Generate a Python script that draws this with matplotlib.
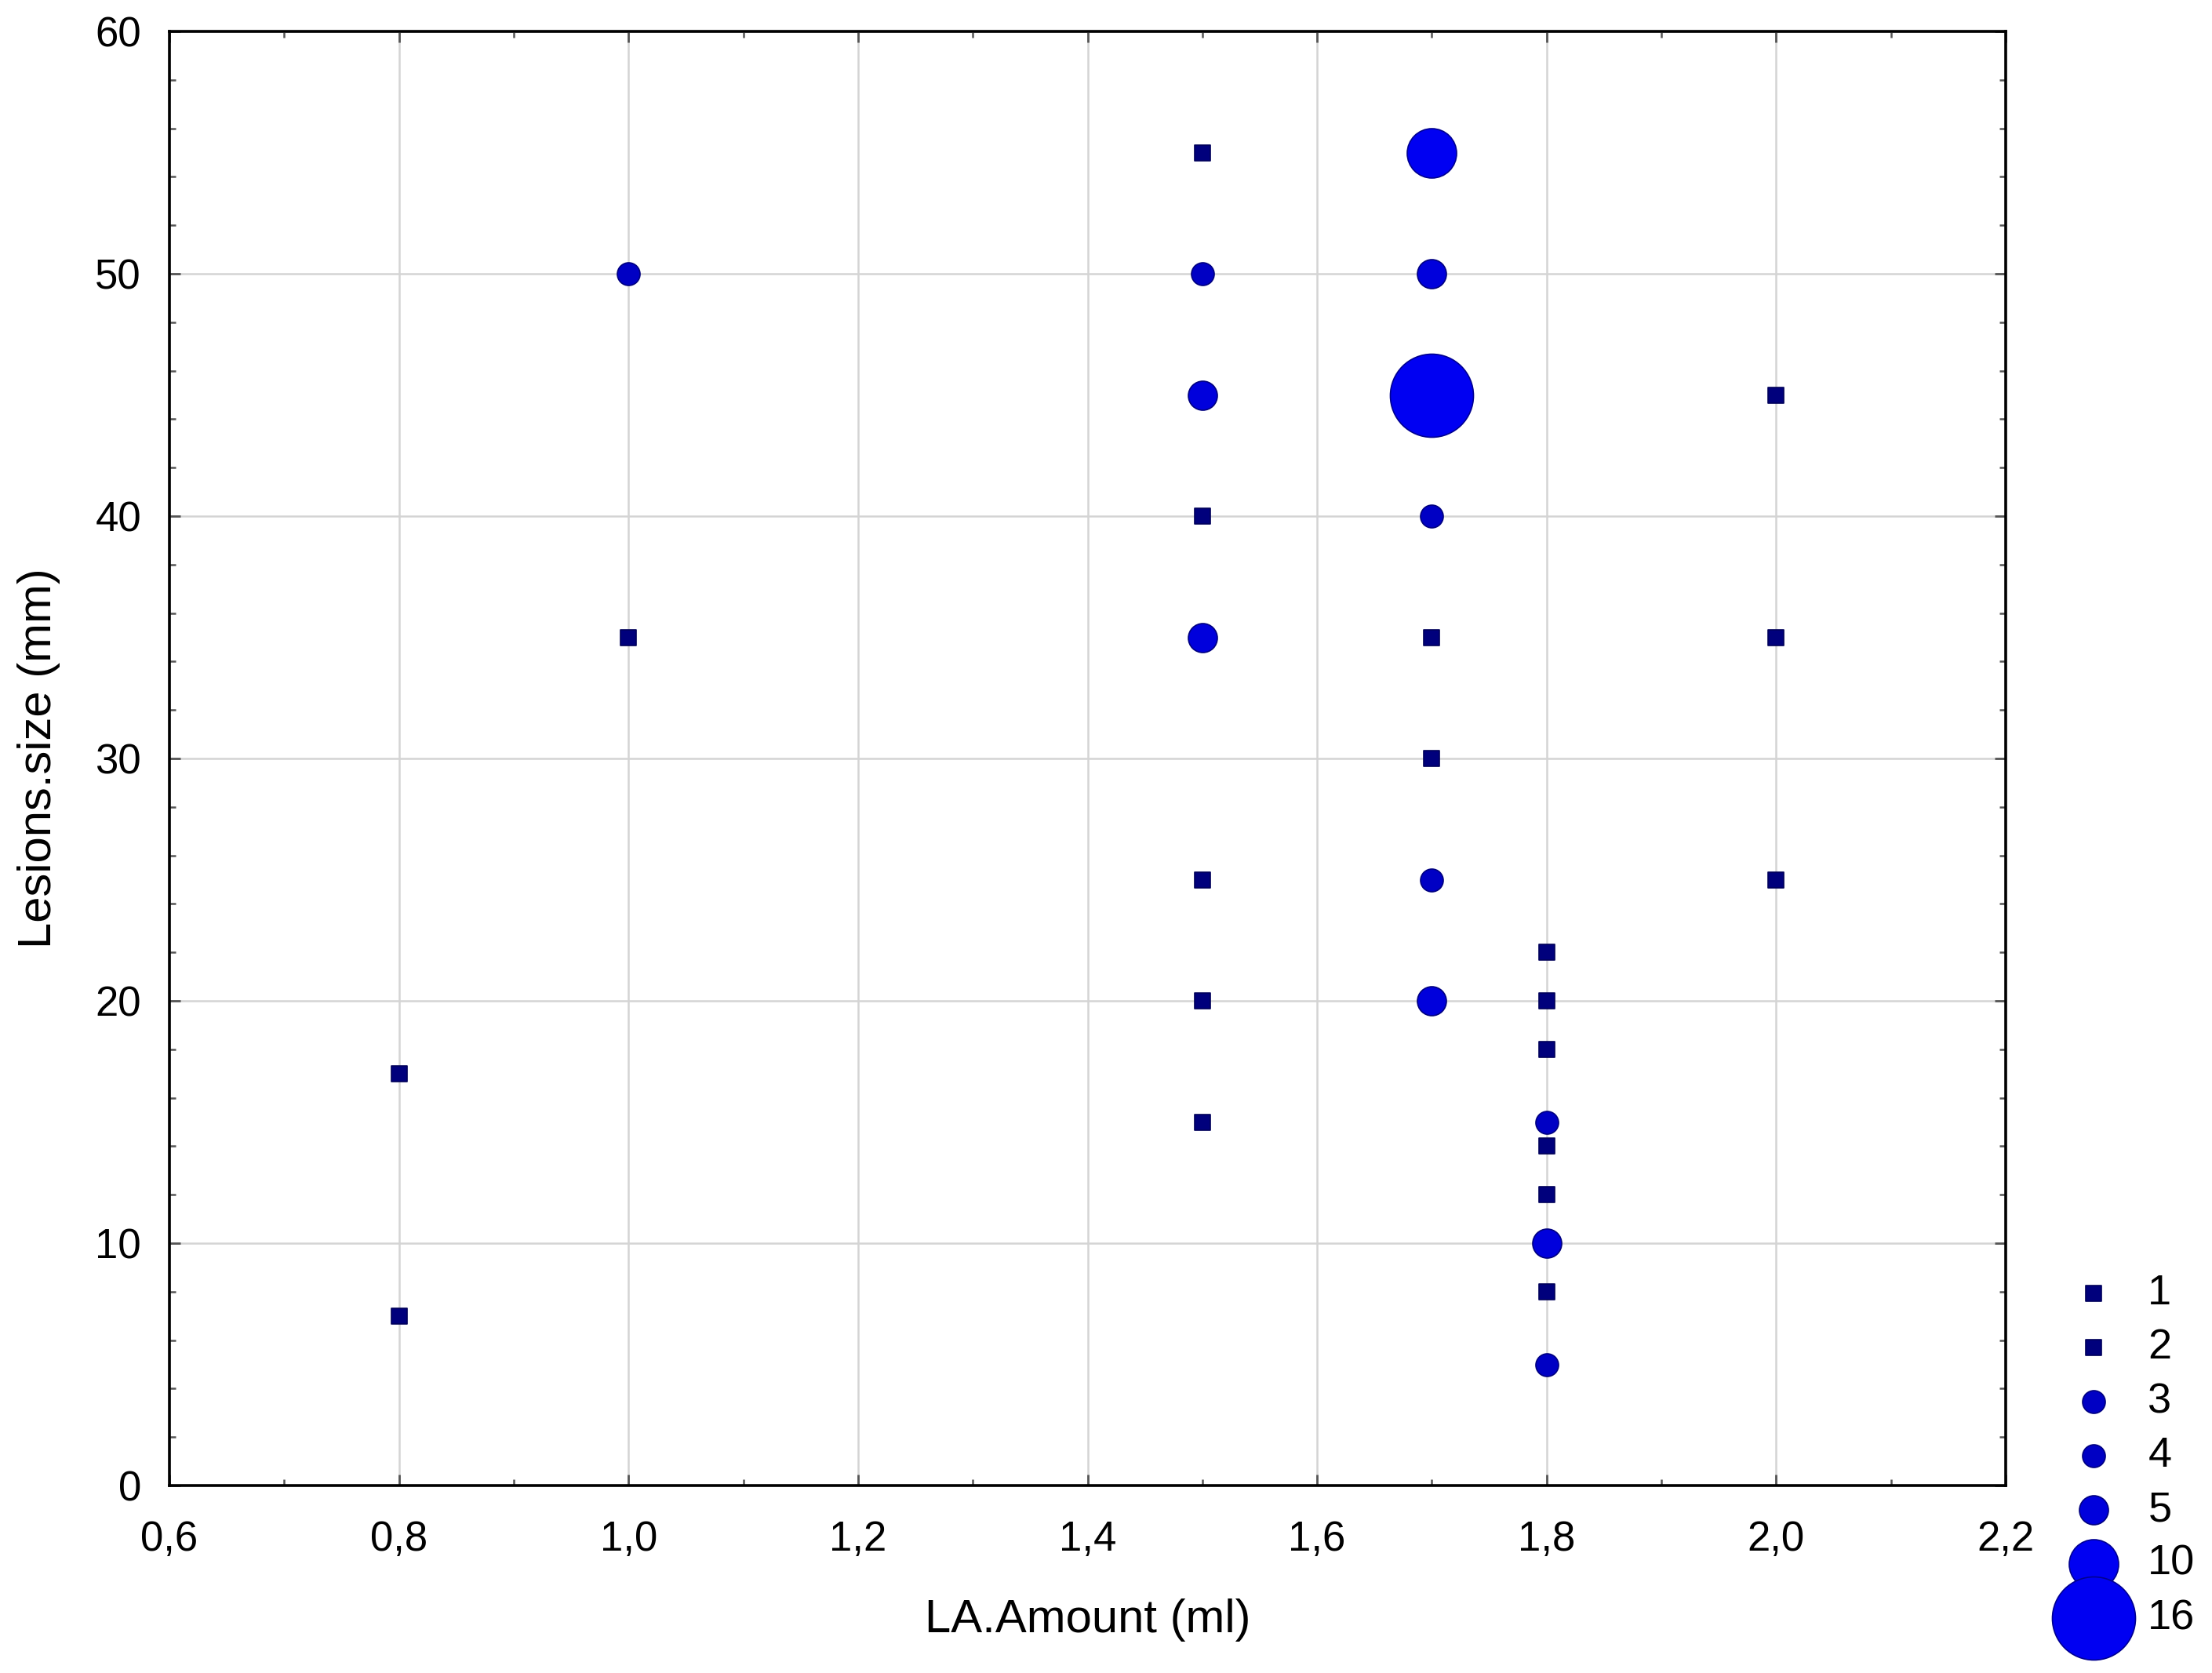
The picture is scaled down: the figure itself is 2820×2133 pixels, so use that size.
import matplotlib.pyplot as plt
import numpy as np

plt.rcParams['font.family'] = ['Liberation Sans', 'DejaVu Sans']

# data: LA amount, lesion size, number of cases at that point
la_amount = [0.8, 0.8,
             1.0, 1.0,
             1.5, 1.5, 1.5, 1.5, 1.5, 1.5, 1.5, 1.5,
             1.7, 1.7, 1.7, 1.7, 1.7, 1.7, 1.7, 1.7,
             1.8, 1.8, 1.8, 1.8, 1.8, 1.8, 1.8, 1.8, 1.8,
             2.0, 2.0, 2.0]
lesion_size = [17, 7,
               50, 35,
               55, 50, 45, 40, 35, 25, 20, 15,
               55, 50, 45, 40, 35, 30, 25, 20,
               22, 20, 18, 15, 14, 12, 10, 8, 5,
               45, 35, 25]
n_cases = [1, 1,
           3, 1,
           1, 3, 5, 1, 5, 1, 1, 1,
           10, 5, 16, 3, 1, 1, 3, 5,
           1, 1, 1, 3, 1, 1, 5, 1, 3,
           1, 1, 1]

legend_counts = [1, 2, 3, 4, 5, 10, 16]

xticks = [0.6, 0.8, 1.0, 1.2, 1.4, 1.6, 1.8, 2.0, 2.2]
yticks = [0, 10, 20, 30, 40, 50, 60]

DPI = 200
# marker look per count (diameter in pixels)
size_px = {1: 20, 2: 20, 3: 29, 4: 29, 5: 37, 10: 63, 16: 106}
shape = {1: 's', 2: 's', 3: 'o', 4: 'o', 5: 'o', 10: 'o', 16: 'o'}
face = {1: '#00007c', 2: '#00007c', 3: '#0000c4', 4: '#0000c4', 5: '#0000dc',
        10: '#0000f2', 16: '#0000f2'}
edge = {1: '#00005a', 2: '#00005a', 3: '#000080', 4: '#000080', 5: '#000080',
        10: '#000090', 16: '#000090'}


def msize(c):
    pts = size_px[c] * 72 / DPI
    return pts ** 2


fig = plt.figure(figsize=(2820 / DPI, 2133 / DPI), dpi=DPI)
ax = fig.add_axes([216 / 2820, 1 - 1894 / 2133, (2557 - 216) / 2820, (1894 - 40) / 2133])

for x, y, c in zip(la_amount, lesion_size, n_cases):
    ax.scatter(x, y, s=msize(c), marker=shape[c], facecolor=face[c],
               edgecolor=edge[c], linewidths=0.6, zorder=3)

ax.set_xlim(0.6, 2.2)
ax.set_ylim(0, 60)
ax.set_xticks(xticks)
ax.set_xticklabels([('%.1f' % t).replace('.', ',') for t in xticks])
ax.set_yticks(yticks)
ax.set_yticklabels([str(t) for t in yticks])
ax.set_xticks(np.arange(0.6, 2.21, 0.1), minor=True)
ax.set_yticks(np.arange(0, 61, 2), minor=True)

ax.grid(True, which='major', color='#d4d4d4', linewidth=0.9, zorder=0)
ax.set_axisbelow(True)
ax.tick_params(which='both', direction='in', top=True, right=True,
               color='#555555', labelsize=19)
ax.tick_params(axis='x', pad=16)
ax.tick_params(axis='y', pad=13)
ax.tick_params(which='major', length=5, width=1.0)
ax.tick_params(which='minor', length=3, width=0.9)
for sp in ax.spines.values():
    sp.set_linewidth(1.3)
    sp.set_color('black')

ax.set_xlabel('LA.Amount (ml)', fontsize=21.5, labelpad=18)
ax.set_ylabel('Lesions.size (mm)', fontsize=21.5, labelpad=16)

# size legend at bottom right
lax = fig.add_axes([2669 / 2820, 1 - 2063 / 2133, 73 / 2820, (2063 - 1649) / 2133])
lax.set_xlim(0, 1)
lax.set_ylim(len(legend_counts) - 1, 0)
lax.axis('off')
for i, c in enumerate(legend_counts):
    lax.scatter(0, i, s=msize(c), marker=shape[c], facecolor=face[c],
                edgecolor=edge[c], linewidths=0.6, clip_on=False, zorder=3)
    lax.text(0.95, i, str(c), ha='left', va='center', fontsize=19.5)

fig.savefig('out.png', dpi=DPI)
